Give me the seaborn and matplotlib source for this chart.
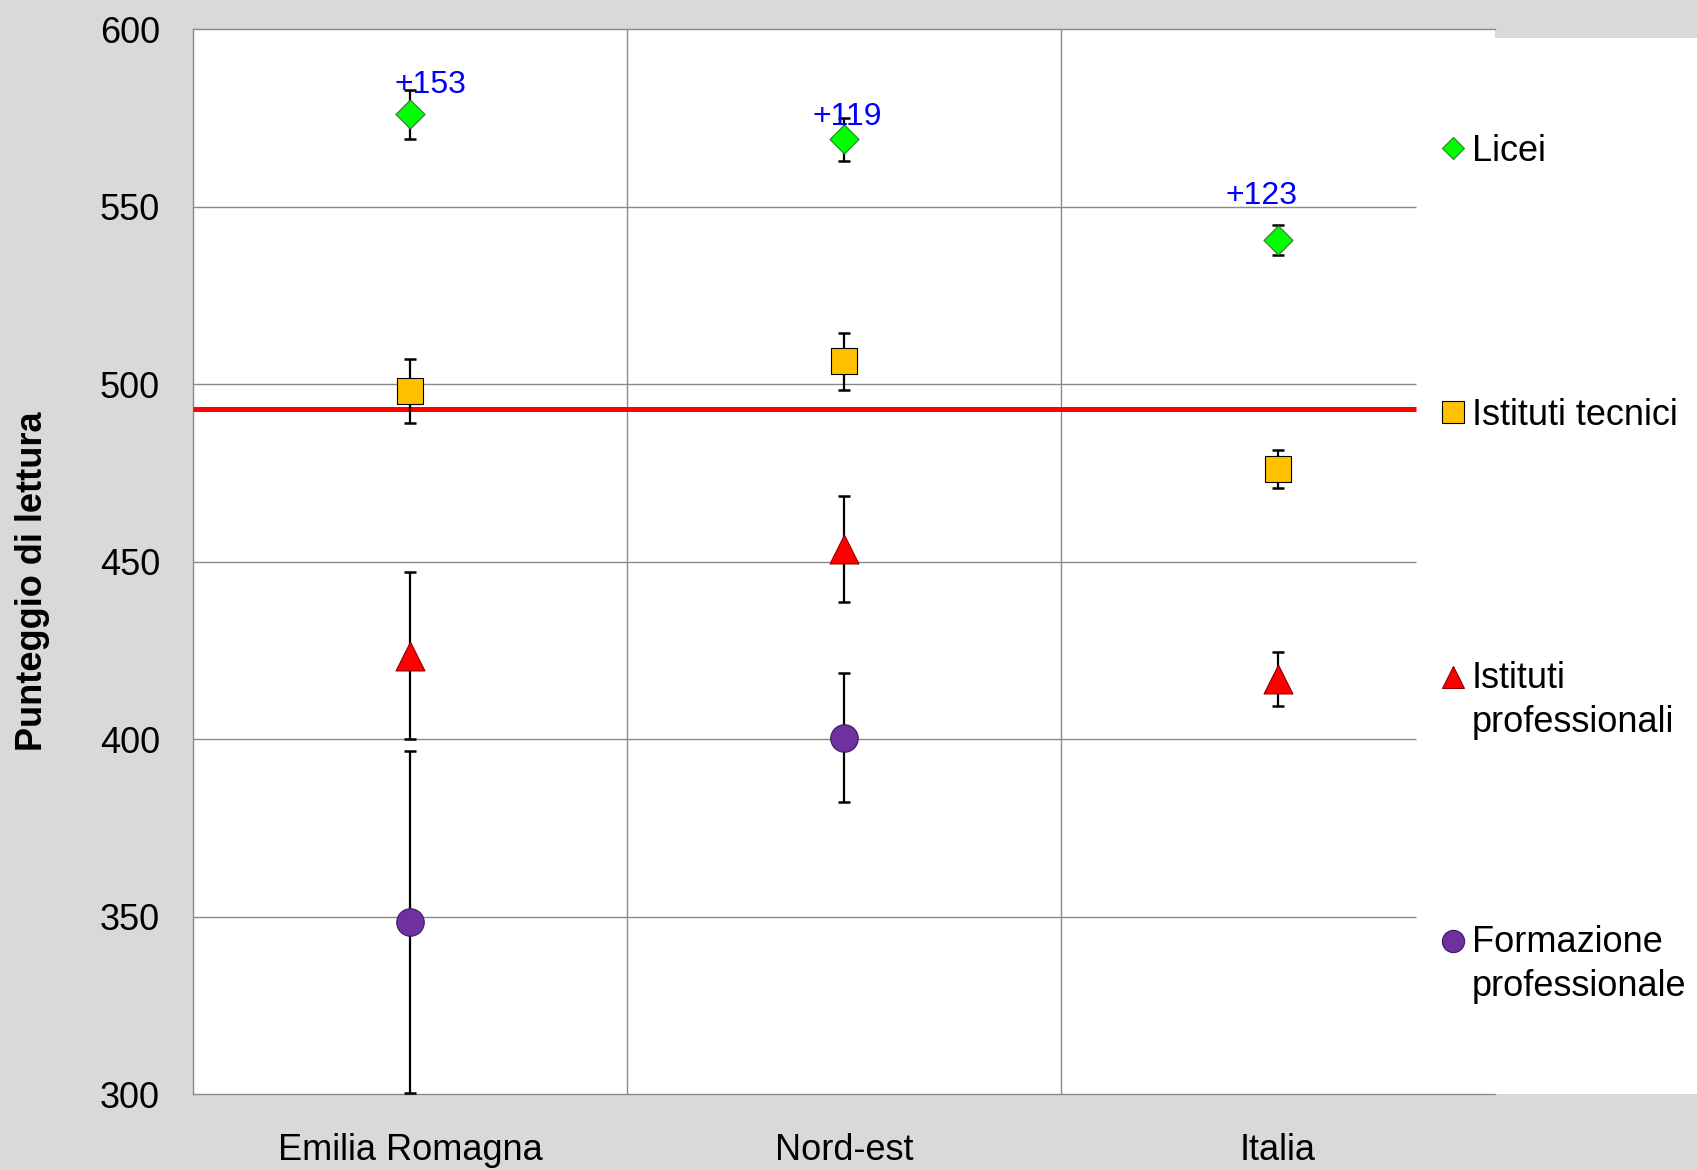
import matplotlib
matplotlib.use("Agg")
import matplotlib.pyplot as plt
from matplotlib.lines import Line2D
from matplotlib.patches import Rectangle
import seaborn as sns
import pandas as pd
import numpy as np

# ---------------- data ----------------
regions = ["Emilia Romagna", "Nord-est", "Italia"]
series_names = ["Licei", "Istituti tecnici", "Istituti\nprofessionali", "Formazione\nprofessionale"]
licei = [576.0, 569.0, 540.6]
licei_err = [6.9, 6.0, 4.3]
tecnici = [498.0, 506.5, 476.2]
tecnici_err = [9.0, 8.0, 5.3]
professionali = [423.5, 453.6, 416.9]
professionali_err = [23.5, 15.0, 7.6]
formazione = [348.5, 400.5, np.nan]
formazione_err = [48.2, 18.3, np.nan]
gap_labels = ["+153", "+119", "+123"]
gap_label_y = [584.3, 575.4, 552.9]
gap_label_dx = [0.046, 0.007, -0.037]
oecd_mean = 493
yticks = [300, 350, 400, 450, 500, 550, 600]

values = [licei, tecnici, professionali, formazione]
errors = [licei_err, tecnici_err, professionali_err, formazione_err]

rows = []
for name, vals, errs in zip(series_names, values, errors):
    for reg, v, e in zip(regions, vals, errs):
        if not np.isnan(v):
            rows.append({"regione": reg, "tipo": name, "punteggio": v, "errore": e})
df = pd.DataFrame(rows)

# ---------------- style ----------------
sns.set_style("white")
plt.rcParams["font.family"] = ["Liberation Sans", "DejaVu Sans"]
plt.rcParams["text.color"] = "black"
plt.rcParams["xtick.color"] = "black"
plt.rcParams["ytick.color"] = "black"

fills = ["#00ff00", "#ffc000", "#ff0000", "#7030a0"]
edges = ["#2e7d2e", "#000000", "#8b0000", "#3a1a5a"]
markers = ["D", "s", "^", "o"]
msizes = [14.8, 18.6, 20.8, 19.8]
leg_msizes = [10.9, 15.8, 16.2, 16.0]

BG = "#d9d9d9"
GRID = "#8a8a8a"

fig = plt.figure(figsize=(16.97, 11.70), dpi=100, facecolor=BG)
ax = fig.add_axes([0.1140, 0.0647, 0.8809 - 0.1140, 0.9750 - 0.0647])
ax.set_facecolor("white")

# white legend area to the right of the plot
fig.patches.append(Rectangle((0.8809, 0.0647), 0.13, 0.9678 - 0.0647,
                             transform=fig.transFigure, facecolor="white",
                             edgecolor="none", zorder=0))

# markers via seaborn, error bars via matplotlib
for name, mk, fc, ec, ms in zip(series_names, markers, fills, edges, msizes):
    sub = df[df["tipo"] == name]
    sns.scatterplot(data=sub, x="regione", y="punteggio", marker=mk, s=ms ** 2,
                    color=fc, edgecolor=ec, linewidth=0.8, zorder=5, ax=ax,
                    legend=False)
    ax.errorbar(sub["regione"], sub["punteggio"], yerr=sub["errore"], fmt="none",
                ecolor="black", elinewidth=1.6, capsize=4.5, capthick=1.8,
                zorder=4)

ax.set_xlim(-0.5, len(regions) - 0.5)
ax.set_ylim(300, 600)
grid_end = 2.317

# gridlines
ax.hlines(yticks[1:-1], -0.5, grid_end, color=GRID, lw=1.0, zorder=1)
ax.vlines([0.5, 1.5], 300, 600, color=GRID, lw=1.0, zorder=1)
# OECD mean line
ax.hlines(oecd_mean, -0.5, grid_end, color="#ff0000", lw=3.6, zorder=3)

# gap labels
for i, (lab, ly, dx) in enumerate(zip(gap_labels, gap_label_y, gap_label_dx)):
    ax.text(i + dx, ly, lab, color="#0000ff", fontsize=23, ha="center",
            va="center", zorder=6)

# axes cosmetics
for side in ["top", "bottom", "left"]:
    ax.spines[side].set_color(GRID)
    ax.spines[side].set_linewidth(1.0)
ax.spines["right"].set_visible(False)
ax.set_yticks(yticks)
ax.set_xticks(range(len(regions)))
ax.set_xticklabels(regions)
ax.tick_params(axis="y", length=0, pad=24, labelsize=26, labelcolor="black")
ax.tick_params(axis="x", length=0, pad=28, labelsize=26, labelcolor="black")
ax.set_xlabel("")
ax.set_ylabel("")
ax.grid(False)

fig.text(33 / 1697, 1 - 581 / 1170, "Punteggio di lettura", rotation=90,
         ha="center", va="center", fontsize=26, fontweight="bold",
         color="black")

# legend (manual, in figure coordinates)
leg_marker_x = 1453 / 1697
leg_text_x = 1472 / 1697
leg_y = [151.5, 415.5, 700.5, 964.5]
for name, mk, fc, ec, ms, yy in zip(series_names, markers, fills, edges,
                                    leg_msizes, leg_y):
    first_line_y = yy - 3.5 if "\n" not in name else yy - 24
    fig.add_artist(Line2D([leg_marker_x], [1 - first_line_y / 1170],
                          marker=mk, markersize=ms, markerfacecolor=fc,
                          markeredgecolor=ec, markeredgewidth=0.8,
                          linestyle="none", transform=fig.transFigure))
    fig.text(leg_text_x, 1 - yy / 1170, name, ha="left", va="center",
             fontsize=26, linespacing=1.3, color="black")

fig.savefig("out.png", dpi=100, facecolor=BG)
